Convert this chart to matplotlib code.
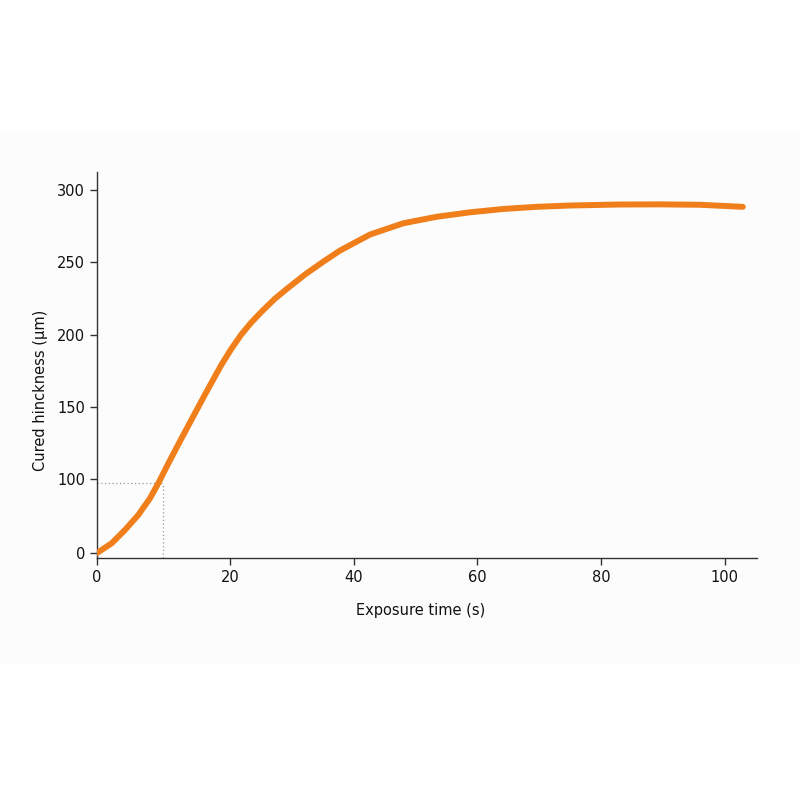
import numpy as np
import matplotlib.pyplot as plt
from matplotlib.patches import Rectangle
from matplotlib.scale import FuncScale

# curve (exposure time in s, thickness in um)
time_s = [0, 2.21, 4.21, 6.21, 7.97, 9.22, 10.48, 11.98, 14.18, 16.2, 18.69,
          20.21, 21.83, 23.44, 25.06, 27.22, 29.37, 32.12, 34.87, 37.78, 42.63,
          48.01, 53.41, 58.79, 64.17, 69.57, 74.95, 83.03, 89.5, 95.96, 102.91]
thickness_um = [0, 13.1, 31.1, 51.4, 73.9, 94.2, 108.5, 121.8, 140.8, 158.1, 178.9,
                190.0, 200.0, 208.3, 215.6, 224.6, 232.2, 241.5, 249.8, 258.1, 269.2,
                277.0, 281.5, 284.6, 286.9, 288.4, 289.3, 290.0, 290.1, 289.8, 288.4]

# marked point (dotted guides)
mark_t = 9.9
mark_h = 94

x_ticks = [0, 20, 40, 60, 80, 100]
y_ticks = [0, 100, 150, 200, 250, 300]


# the axes in the reference are not quite linear near the origin
def fx(x):
    x = np.asarray(x, dtype=float)
    return np.where(x < 20, x * 133 / 20, 133 + (x - 20) * 495 / 80)


def fx_inv(v):
    v = np.asarray(v, dtype=float)
    return np.where(v < 133, v * 20 / 133, 20 + (v - 133) * 80 / 495)


def fy(y):
    y = np.asarray(y, dtype=float)
    return np.where(y < 100, y * 74 / 100, 74 + (y - 100) * 289 / 200)


def fy_inv(v):
    v = np.asarray(v, dtype=float)
    return np.where(v < 74, v * 100 / 74, 100 + (v - 74) * 200 / 289)


fig = plt.figure(figsize=(8, 8), dpi=100)
band = Rectangle((0, (800 - 662) / 800), 1, 529 / 800,
                 transform=fig.transFigure, color='#fcfcfc', zorder=-10)
fig.add_artist(band)

ax = fig.add_axes([97 / 800, (800 - 558) / 800, 660 / 800, 386 / 800])
ax.set_zorder(5)
ax.set_facecolor('none')
ax.set_xscale(FuncScale(ax.xaxis, (fx, fx_inv)))
ax.set_yscale(FuncScale(ax.yaxis, (fy, fy_inv)))

ax.plot(time_s, thickness_um, color='#f07f1b', lw=4.3,
        solid_capstyle='round', solid_joinstyle='round', zorder=3)

ax.plot([0, mark_t], [mark_h, mark_h], color='#999999', lw=0.9, ls=(0, (1, 2)))
ax.plot([mark_t, mark_t], [-6.8, mark_h], color='#999999', lw=0.9, ls=(0, (1, 2)))

ax.set_xlim(0, 105.2)
ax.set_ylim(-6.8, 312.5)
ax.set_xticks(x_ticks)
ax.set_yticks(y_ticks)
ax.set_xticklabels([str(t) for t in x_ticks])
ax.set_yticklabels([str(t) for t in y_ticks])
ax.minorticks_off()

for side in ['top', 'right']:
    ax.spines[side].set_visible(False)
for side in ['left', 'bottom']:
    ax.spines[side].set_color('#333333')
    ax.spines[side].set_linewidth(1.0)
ax.tick_params(colors='#333333', labelcolor='#111111', labelsize=10.5, length=5, width=1)

ax.set_xlabel('Exposure time (s)', fontsize=10.5, color='#111111')
ax.set_ylabel('Cured hinckness (µm)', fontsize=10.5, color='#111111')
ax.xaxis.set_label_coords(0.491, -0.117)
ax.yaxis.set_label_coords(-0.075, 0.435)

fig.savefig('out.png', dpi=100)
